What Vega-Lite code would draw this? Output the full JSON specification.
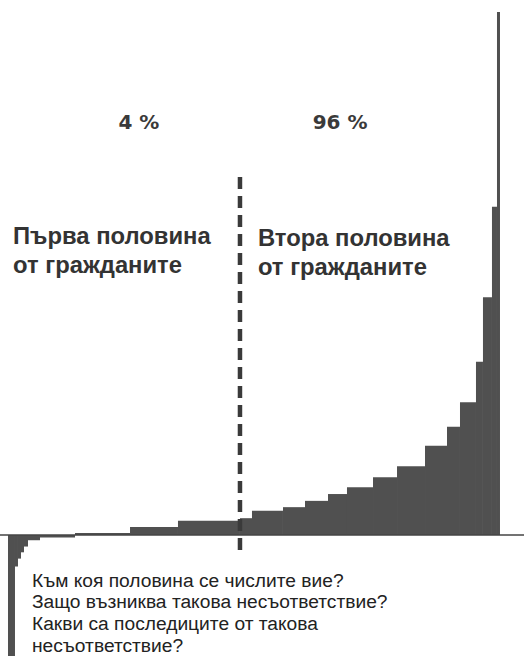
{
  "$schema": "https://vega.github.io/schema/vega-lite/v6.json",
  "width": 524,
  "height": 656,
  "autosize": "none",
  "padding": 0,
  "background": "white",
  "config": {"view": {"stroke": null}},
  "datasets": {
    "steps": [
      {"p0": 0, "p1": 1.42, "w": -25},
      {"p0": 1.42, "p1": 2.03, "w": -6},
      {"p0": 2.03, "p1": 2.64, "w": -4.5},
      {"p0": 2.64, "p1": 3.25, "w": -3.3},
      {"p0": 3.25, "p1": 4.07, "w": -2.2},
      {"p0": 4.07, "p1": 6.5, "w": -1},
      {"p0": 6.5, "p1": 13.62, "w": -0.5},
      {"p0": 13.62, "p1": 24.8, "w": 0.4},
      {"p0": 24.8, "p1": 34.55, "w": 1.5},
      {"p0": 34.55, "p1": 47.15, "w": 2.7},
      {"p0": 47.15, "p1": 49.59, "w": 3.2},
      {"p0": 49.59, "p1": 55.89, "w": 4.6},
      {"p0": 55.89, "p1": 60.37, "w": 5.3},
      {"p0": 60.37, "p1": 65.04, "w": 6.5},
      {"p0": 65.04, "p1": 68.9, "w": 7.8},
      {"p0": 68.9, "p1": 74.19, "w": 9.1},
      {"p0": 74.19, "p1": 79.07, "w": 11.0},
      {"p0": 79.07, "p1": 84.76, "w": 13.1},
      {"p0": 84.76, "p1": 89.23, "w": 17.0},
      {"p0": 89.23, "p1": 91.87, "w": 20.6},
      {"p0": 91.87, "p1": 95.12, "w": 25.3},
      {"p0": 95.12, "p1": 96.54, "w": 33.0},
      {"p0": 96.54, "p1": 98.37, "w": 45.3},
      {"p0": 98.37, "p1": 99.39, "w": 62.5},
      {"p0": 99.39, "p1": 100, "w": 99.6}
    ],
    "labels": [
      {"kind": "pct", "label": "4 %", "p": 26.6, "v": 77.3},
      {"kind": "pct", "label": "96 %", "p": 67.5, "v": 77.3},
      {"kind": "head", "label": "Първа половина", "p": 1.02, "v": 55.4},
      {"kind": "head", "label": "от гражданите", "p": 1.02, "v": 49.9},
      {"kind": "head", "label": "Втора половина", "p": 50.8, "v": 55.0},
      {"kind": "head", "label": "от гражданите", "p": 50.8, "v": 49.5},
      {"kind": "q", "label": "Към коя половина се числите вие?", "p": 4.88, "v": -9.85},
      {"kind": "q", "label": "Защо възниква такова несъответствие?", "p": 4.88, "v": -13.9},
      {"kind": "q", "label": "Какви са последиците от такова", "p": 4.88, "v": -18.1},
      {"kind": "q", "label": "несъответствие?", "p": 4.88, "v": -22.3}
    ]
  },
  "layer": [
    {
      "data": {"name": "steps"},
      "mark": {"type": "rect", "fill": "#505050", "clip": true},
      "encoding": {
        "x": {"field": "p0", "type": "quantitative", "scale": {"domain": [-1.626, 104.88], "nice": false, "zero": false}, "axis": null},
        "x2": {"field": "p1"},
        "y": {"field": "w", "type": "quantitative", "scale": {"domain": [-23.05, 101.9], "nice": false, "zero": false}, "axis": null},
        "y2": {"datum": 0}
      }
    },
    {
      "data": {"values": [{}]},
      "mark": {"type": "rule", "stroke": "#444", "strokeWidth": 1.5},
      "encoding": {"y": {"datum": 0, "type": "quantitative"}}
    },
    {
      "data": {"values": [{}]},
      "mark": {"type": "rule", "stroke": "#3a3a3a", "strokeWidth": 4.5, "strokeDash": [12, 7]},
      "encoding": {
        "x": {"datum": 47.15, "type": "quantitative"},
        "y": {"datum": 68.2, "type": "quantitative"},
        "y2": {"datum": -3.8}
      }
    },
    {
      "data": {"name": "labels"},
      "transform": [{"filter": "datum.kind == 'pct'"}],
      "mark": {"type": "text", "font": "DejaVu Sans", "fontWeight": "bold", "fontSize": 20, "fill": "#3a3a3a", "align": "center", "baseline": "alphabetic"},
      "encoding": {
        "x": {"field": "p", "type": "quantitative"},
        "y": {"field": "v", "type": "quantitative"},
        "text": {"field": "label"}
      }
    },
    {
      "data": {"name": "labels"},
      "transform": [{"filter": "datum.kind == 'head'"}],
      "mark": {"type": "text", "font": "Liberation Sans", "fontWeight": "bold", "fontSize": 23.8, "fill": "#333", "align": "left", "baseline": "alphabetic"},
      "encoding": {
        "x": {"field": "p", "type": "quantitative"},
        "y": {"field": "v", "type": "quantitative"},
        "text": {"field": "label"}
      }
    },
    {
      "data": {"name": "labels"},
      "transform": [{"filter": "datum.kind == 'q'"}],
      "mark": {"type": "text", "font": "Liberation Sans", "fontSize": 19.2, "fill": "#222", "align": "left", "baseline": "alphabetic"},
      "encoding": {
        "x": {"field": "p", "type": "quantitative"},
        "y": {"field": "v", "type": "quantitative"},
        "text": {"field": "label"}
      }
    }
  ]
}
